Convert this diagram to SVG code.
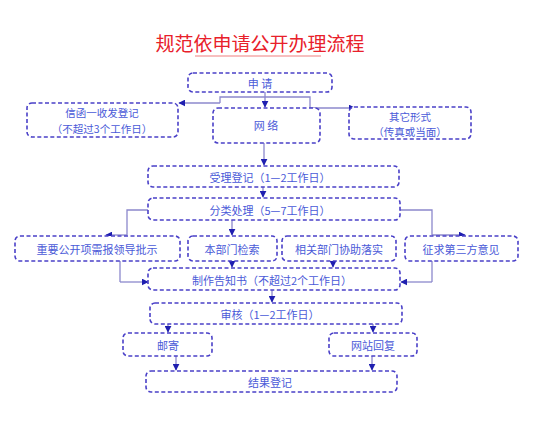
<svg xmlns="http://www.w3.org/2000/svg" width="553" height="423" viewBox="0 0 553 423">
<defs>
<marker id="ah" viewBox="0 0 10 10" refX="9" refY="5" markerWidth="7" markerHeight="7" orient="auto" markerUnits="userSpaceOnUse">
<path d="M0,0 L10,5 L0,10 z" fill="#1f1fb0"/>
</marker>
<style>
.box{fill:#ffffff;stroke:#4a40c8;stroke-width:1.6;stroke-dasharray:4 2.5}
.t{font-family:"Noto Sans CJK SC","Noto Sans CJK JP",sans-serif;font-size:11px;fill:#4a5ad8;text-anchor:middle;dominant-baseline:central}
.s{font-size:10.5px}
.c{fill:none;stroke:#8c88cc;stroke-width:1.3}
.ca{fill:none;stroke:#8c88cc;stroke-width:1.3;marker-end:url(#ah)}
</style>
</defs>
<rect width="553" height="423" fill="#ffffff"/>
<g id="title">
<text x="260" y="42" font-family="Noto Sans CJK SC, sans-serif" font-size="19" fill="#e8202a" text-anchor="middle" dominant-baseline="central">规范依申请公开办理流程</text>
<line x1="195" y1="56" x2="321" y2="56" stroke="#f08080" stroke-width="1.2"/>
</g>
<g id="connectors">
<path class="ca" d="M265,92 V107"/>
<path class="c" d="M220,103 V97 H310 V108"/>
<path class="ca" d="M220,103 H179"/>
<path class="ca" d="M310,108 H355"/>
<path class="ca" d="M264,143 V165"/>
<path class="ca" d="M263,187 V197"/>
<path class="c" d="M148,210 H127 V235"/>
<path class="ca" d="M127,235 H106"/>
<path class="c" d="M400,210 H432 V235"/>
<path class="ca" d="M432,235 H465"/>
<path class="ca" d="M232,220 V235"/>
<path class="ca" d="M232,261 V267"/>
<path class="ca" d="M333,261 V267"/>
<path class="c" d="M120,261 V282"/>
<path class="ca" d="M120,282 H148"/>
<path class="c" d="M432,261 V282"/>
<path class="ca" d="M432,282 H401"/>
<path class="ca" d="M272,290 V302"/>
<path class="ca" d="M168,324 V332"/>
<path class="ca" d="M373,324 V332"/>
<path class="ca" d="M176,356 V370"/>
<path class="ca" d="M372,356 V370"/>
</g>
<g id="n-apply"><rect class="box" x="188" y="73" width="144" height="19" rx="5"/><text class="t" x="260" y="82.5">申 请</text></g>
<g id="n-letter"><rect class="box" x="27" y="103" width="151" height="34" rx="5"/><text class="t s" x="102" y="112.5">信函一收发登记</text><text class="t s" x="102" y="128">（不超过3个工作日）</text></g>
<g id="n-web"><rect class="box" x="213" y="108" width="107" height="35" rx="5"/><text class="t" x="266" y="125">网  络</text></g>
<g id="n-other"><rect class="box" x="349" y="107" width="122" height="32" rx="5"/><text class="t s" x="410" y="116">其它形式</text><text class="t s" x="410" y="131">（传真或当面）</text></g>
<g id="n-accept"><rect class="box" x="148" y="166" width="251" height="21" rx="5"/><text class="t" x="270" y="177">受理登记（1—2工作日）</text></g>
<g id="n-classify"><rect class="box" x="148" y="198" width="252" height="22" rx="5"/><text class="t" x="270" y="209.5">分类处理（5—7工作日）</text></g>
<g id="n-leader"><rect class="box" x="15" y="236" width="165" height="25" rx="5"/><text class="t" x="97" y="248.5">重要公开项需报领导批示</text></g>
<g id="n-search"><rect class="box" x="188" y="236" width="89" height="25" rx="5"/><text class="t" x="232" y="248.5">本部门检索</text></g>
<g id="n-assist"><rect class="box" x="282" y="236" width="114" height="25" rx="5"/><text class="t" x="339" y="248.5">相关部门协助落实</text></g>
<g id="n-third"><rect class="box" x="405" y="236" width="113" height="25" rx="5"/><text class="t" x="461" y="248.5">征求第三方意见</text></g>
<g id="n-notice"><rect class="box" x="148" y="268" width="252" height="22" rx="5"/><text class="t" x="272" y="279.5">制作告知书（不超过2个工作日）</text></g>
<g id="n-review"><rect class="box" x="150" y="303" width="252" height="21" rx="5"/><text class="t" x="270" y="314">审核（1—2工作日）</text></g>
<g id="n-mail"><rect class="box" x="123" y="333" width="89" height="23" rx="5"/><text class="t" x="168" y="345">邮寄</text></g>
<g id="n-site"><rect class="box" x="329" y="333" width="88" height="23" rx="5"/><text class="t" x="373" y="345">网站回复</text></g>
<g id="n-result"><rect class="box" x="146" y="371" width="251" height="21" rx="5"/><text class="t" x="270" y="382">结果登记</text></g>
</svg>
